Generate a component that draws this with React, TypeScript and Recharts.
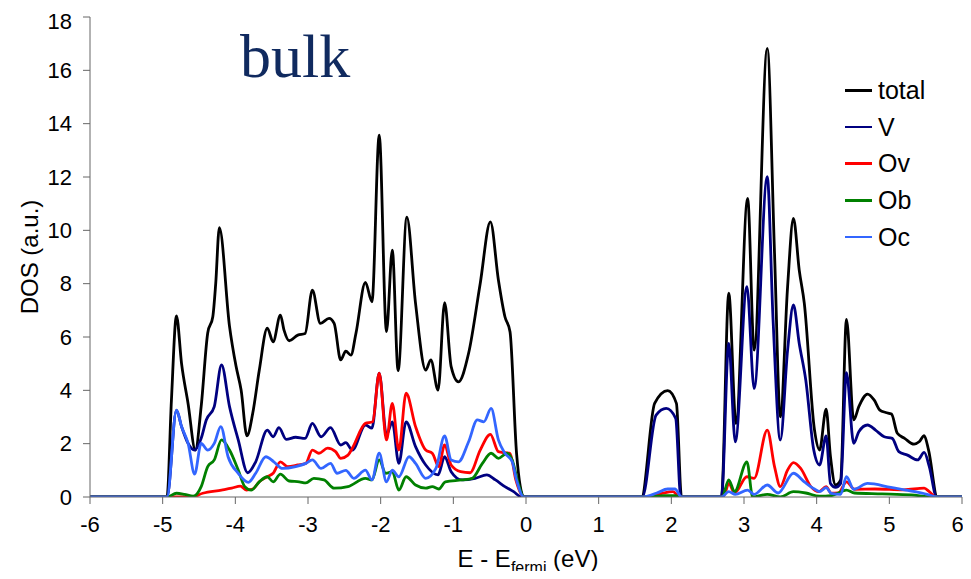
import { LineChart, Line, XAxis, YAxis, Legend } from "recharts";

// [E - Efermi (eV), DOS (a.u.)]
const totalPts: [number, number][] = [
  [-6, 0], [-4.94, 0], [-4.88, 3.6], [-4.81, 6.79], [-4.74, 5.0], [-4.65, 3.5], [-4.55, 1.76],
  [-4.47, 3.4], [-4.38, 6.15], [-4.31, 6.76], [-4.27, 8.0], [-4.22, 10.1], [-4.08, 6.4],
  [-3.99, 4.9], [-3.92, 4.0], [-3.84, 2.29], [-3.76, 3.15], [-3.67, 4.76], [-3.56, 6.33],
  [-3.48, 5.82], [-3.38, 6.82], [-3.33, 6.26], [-3.26, 5.86], [-3.14, 6.07], [-3.04, 6.13],
  [-2.94, 7.76], [-2.83, 6.51], [-2.71, 6.7], [-2.64, 6.51], [-2.55, 5.14], [-2.48, 5.47],
  [-2.41, 5.32], [-2.34, 6.14], [-2.21, 8.05], [-2.12, 7.32], [-2.02, 13.57], [-1.92, 6.2],
  [-1.84, 9.26], [-1.76, 4.74], [-1.64, 10.49], [-1.52, 7.26], [-1.38, 4.76], [-1.31, 5.14],
  [-1.21, 4.01], [-1.12, 7.29], [-1.03, 4.89], [-0.93, 4.32], [-0.79, 5.39], [-0.63, 8.01],
  [-0.49, 10.32], [-0.38, 8.14], [-0.29, 6.76], [-0.22, 6.2], [-0.13, 1.64], [-0.03, 0],
  [1.59, 0], [1.77, 3.51], [1.95, 3.99], [2.07, 3.51], [2.14, 0],
  [2.69, 0], [2.79, 7.64], [2.89, 2.76], [3.05, 11.2], [3.14, 5.51], [3.32, 16.82], [3.42, 9.14],
  [3.5, 3.01], [3.6, 7.89], [3.68, 10.45], [3.76, 8.51], [3.83, 7.26], [3.97, 2.51], [4.04, 1.76],
  [4.13, 3.29], [4.19, 1.51], [4.26, 0.45], [4.33, 0.64], [4.41, 6.66], [4.51, 2.89], [4.58, 3.39],
  [4.7, 3.86], [4.79, 3.64], [4.87, 3.26], [4.95, 3.17], [5.03, 3.11], [5.11, 2.39], [5.21, 2.2],
  [5.34, 1.98], [5.41, 2.07], [5.48, 2.3], [5.54, 1.76], [5.66, 0], [6, 0],
];

const vPts: [number, number][] = [
  [-6, 0], [-4.94, 0], [-4.81, 3.26], [-4.74, 2.64], [-4.65, 2.01], [-4.56, 1.76], [-4.47, 2.2],
  [-4.4, 2.89], [-4.29, 3.39], [-4.19, 4.95], [-4.08, 3.39], [-3.96, 2.14], [-3.83, 0.91],
  [-3.72, 1.32], [-3.56, 2.51], [-3.48, 2.26], [-3.4, 2.6], [-3.3, 2.16], [-3.17, 2.24],
  [-3.04, 2.2], [-2.94, 2.76], [-2.82, 2.26], [-2.69, 2.6], [-2.55, 1.95], [-2.48, 2.04],
  [-2.39, 1.76], [-2.21, 2.7], [-2.12, 2.58], [-2.02, 4.64], [-1.92, 2.32], [-1.84, 2.82],
  [-1.75, 1.26], [-1.65, 2.82], [-1.52, 1.89], [-1.38, 1.2], [-1.21, 0.83], [-1.12, 1.51],
  [-1.03, 0.95], [-0.88, 0.64], [-0.7, 0.7], [-0.54, 0.83], [-0.42, 0.64], [-0.29, 0.39],
  [-0.17, 0.2], [-0.06, 0],
  [1.6, 0], [1.79, 3.07], [1.93, 3.32], [2.06, 2.95], [2.13, 0],
  [2.69, 0], [2.79, 5.76], [2.88, 2.07], [3.04, 7.89], [3.14, 4.07], [3.32, 12.01], [3.4, 6.64],
  [3.5, 2.14], [3.6, 5.51], [3.68, 7.2], [3.76, 5.76], [3.85, 4.39], [3.96, 1.76], [4.04, 1.2],
  [4.13, 2.29], [4.19, 0.51], [4.26, 0.36], [4.33, 0.51], [4.41, 4.66], [4.51, 2.01], [4.58, 2.45],
  [4.7, 2.7], [4.81, 2.51], [4.93, 2.26], [5.04, 2.2], [5.13, 1.7], [5.25, 1.57], [5.39, 1.39],
  [5.48, 1.67], [5.55, 1.14], [5.65, 0], [6, 0],
];

const ovPts: [number, number][] = [
  [-6, 0], [-4.6, 0], [-4.45, 0.14], [-4.19, 0.26], [-4.05, 0.33], [-3.93, 0.41], [-3.85, 0.26],
  [-3.76, 0.3], [-3.67, 0.57], [-3.56, 0.76], [-3.48, 0.89], [-3.38, 1.32], [-3.28, 1.14],
  [-3.14, 1.2], [-3.03, 1.26], [-2.94, 1.76], [-2.85, 1.64], [-2.73, 1.83], [-2.62, 1.7],
  [-2.55, 1.45], [-2.45, 1.57], [-2.39, 1.83], [-2.21, 2.76], [-2.11, 2.82], [-2.02, 4.64],
  [-1.92, 2.14], [-1.84, 3.51], [-1.75, 1.76], [-1.65, 3.89], [-1.52, 2.64], [-1.38, 1.76],
  [-1.29, 1.64], [-1.2, 1.14], [-1.12, 1.95], [-1.03, 1.2], [-0.9, 0.95], [-0.77, 0.91],
  [-0.63, 1.76], [-0.49, 2.35], [-0.38, 1.7], [-0.29, 1.66], [-0.22, 1.64], [-0.14, 0.64],
  [-0.03, 0],
  [1.62, 0], [1.85, 0.12], [2.02, 0.2], [2.12, 0],
  [2.69, 0], [2.74, 0.14], [2.79, 0.51], [2.87, 0.15], [3.04, 0.76], [3.14, 0.7], [3.32, 2.51],
  [3.42, 1.14], [3.5, 0.39], [3.6, 1.01], [3.68, 1.29], [3.78, 1.07], [3.92, 0.39], [4.03, 0.2],
  [4.13, 0.39], [4.2, 0.14], [4.3, 0.15], [4.41, 0.57], [4.52, 0.29], [4.8, 0.3], [5.2, 0.27],
  [5.48, 0.33], [5.55, 0.2], [5.64, 0], [6, 0],
];

const obPts: [number, number][] = [
  [-6, 0], [-4.94, 0], [-4.81, 0.14], [-4.7, 0.1], [-4.58, 0.03], [-4.47, 0.39], [-4.38, 1.14],
  [-4.29, 1.39], [-4.19, 2.14], [-4.08, 1.76], [-3.96, 1.01], [-3.87, 0.39], [-3.78, 0.26],
  [-3.67, 0.57], [-3.56, 0.76], [-3.48, 0.57], [-3.38, 0.86], [-3.26, 0.6], [-3.12, 0.57],
  [-3.03, 0.53], [-2.92, 0.7], [-2.78, 0.64], [-2.64, 0.33], [-2.45, 0.39], [-2.21, 0.7],
  [-2.12, 0.64], [-2.02, 1.39], [-1.93, 0.89], [-1.84, 0.95], [-1.75, 0.26], [-1.65, 0.76],
  [-1.52, 0.45], [-1.38, 0.33], [-1.29, 0.39], [-1.2, 0.3], [-1.11, 0.57], [-0.88, 0.64],
  [-0.74, 0.7], [-0.6, 1.26], [-0.48, 1.64], [-0.38, 1.45], [-0.26, 1.64], [-0.19, 1.39],
  [-0.1, 0.45], [-0.03, 0],
  [1.65, 0], [1.9, 0.05], [2.05, 0.05], [2.12, 0],
  [2.7, 0], [2.79, 0.64], [2.87, 0.2], [3.04, 1.32], [3.12, 0], [3.32, 0.1], [3.5, 0], [3.68, 0.2],
  [3.85, 0.15], [4.04, 0.03], [4.2, 0.05], [4.41, 0.26], [4.52, 0.15], [4.9, 0.12], [5.3, 0.08],
  [5.6, 0], [6, 0],
];

const ocPts: [number, number][] = [
  [-6, 0], [-4.94, 0], [-4.81, 3.26], [-4.74, 2.64], [-4.65, 2.01], [-4.56, 0.86], [-4.47, 2.01],
  [-4.38, 1.76], [-4.29, 2.01], [-4.2, 2.64], [-4.1, 1.51], [-3.96, 0.89], [-3.82, 0.55],
  [-3.72, 0.89], [-3.58, 1.51], [-3.47, 1.32], [-3.35, 1.07], [-3.17, 1.14], [-3.03, 1.26],
  [-2.94, 1.39], [-2.82, 1.07], [-2.69, 1.26], [-2.6, 0.89], [-2.48, 1.0], [-2.37, 0.7],
  [-2.21, 1.01], [-2.12, 0.64], [-2.02, 1.64], [-1.92, 0.57], [-1.84, 1.01], [-1.75, 0.76],
  [-1.61, 1.51], [-1.52, 1.26], [-1.38, 0.7], [-1.24, 1.07], [-1.12, 2.29], [-1.03, 1.39],
  [-0.93, 1.32], [-0.79, 2.07], [-0.67, 2.89], [-0.58, 2.82], [-0.48, 3.32], [-0.38, 2.14],
  [-0.29, 1.64], [-0.19, 1.32], [-0.13, 0.64], [-0.03, 0],
  [1.6, 0], [1.8, 0.15], [1.95, 0.3], [2.05, 0.3], [2.14, 0],
  [2.69, 0], [2.79, 0.2], [2.88, 0.1], [3.05, 0.26], [3.14, 0.1], [3.32, 0.45], [3.47, 0.15],
  [3.68, 0.89], [3.83, 0.57], [3.97, 0.3], [4.04, 0.2], [4.13, 0.35], [4.2, 0.14], [4.33, 0.1],
  [4.41, 0.76], [4.51, 0.29], [4.7, 0.51], [5.02, 0.36], [5.35, 0.2], [5.52, 0.1], [5.66, 0], [6, 0],
];

const xTicks = [-6, -5, -4, -3, -2, -1, 0, 1, 2, 3, 4, 5, 6];
const yTicks = [0, 2, 4, 6, 8, 10, 12, 14, 16, 18];

const series = [
  { name: "total", color: "#000000", pts: totalPts },
  { name: "V", color: "#000080", pts: vPts },
  { name: "Ov", color: "#ff0000", pts: ovPts },
  { name: "Ob", color: "#008000", pts: obPts },
  { name: "Oc", color: "#3366ff", pts: ocPts },
];

const toRows = (pts: [number, number][]) => pts.map(([x, y]) => ({ x, y }));

const sans = "'Liberation Sans', Arial, sans-serif";

// keep the legend in series order (recharts sorts the payload by name)
function LegendBox() {
  return (
    <div style={{ fontFamily: sans, fontSize: 25, color: "#000" }}>
      {series.map((s) => (
        <div
          key={s.name}
          style={{ display: "flex", alignItems: "center", height: 36.7 }}
        >
          <span
            style={{
              display: "inline-block",
              width: 27,
              height: 2.5,
              background: s.color,
              marginRight: 6,
            }}
          />
          <span>{s.name}</span>
        </div>
      ))}
    </div>
  );
}

export default function App() {
  // outer box is 8px shorter than the chart so the page does not scroll
  return (
    <div style={{ height: 563 }}>
      <LineChart
        width={955}
        height={571}
        margin={{ top: 9, right: 1, left: 0, bottom: 0 }}
        style={{ background: "#fff", overflow: "visible" }}
      >
        <XAxis
          type="number"
          dataKey="x"
          domain={[-6, 6]}
          ticks={xTicks}
          allowDataOverflow
          height={82}
          stroke="#666"
          tickSize={7}
          tickMargin={12}
          tick={{ fill: "#000", fontSize: 22, fontFamily: sans }}
        />
        <YAxis
          type="number"
          domain={[0, 18]}
          ticks={yTicks}
          allowDataOverflow
          width={82}
          stroke="#666"
          tickSize={7}
          tickMargin={11}
          tick={{ fill: "#000", fontSize: 22, fontFamily: sans }}
        />
        {series.map((s) => (
          <Line
            key={s.name}
            name={s.name}
            data={toRows(s.pts)}
            dataKey="y"
            type="monotone"
            stroke={s.color}
            strokeWidth={2.8}
            dot={false}
            activeDot={false}
            isAnimationActive={false}
          />
        ))}
        <Legend
          layout="vertical"
          align="center"
          verticalAlign="middle"
          content={<LegendBox />}
          wrapperStyle={{ top: 64, left: 837, width: "auto", height: "auto" }}
        />
        <text
          x={232}
          y={69}
          fill="#102a5f"
          fontSize={62}
          fontFamily="'Liberation Serif', 'Times New Roman', serif"
        >
          bulk
        </text>
        <text
          x={21}
          y={249}
          transform="rotate(-90 21 249)"
          textAnchor="middle"
          dominantBaseline="central"
          fontSize={24}
          fontFamily={sans}
          fill="#000"
        >
          DOS (a.u.)
        </text>
        <text
          x={520}
          y={559}
          textAnchor="middle"
          fontSize={24}
          fontFamily={sans}
          fill="#000"
        >
          E - E
          <tspan fontSize={16} dy={6}>
            fermi
          </tspan>
          <tspan dy={-6}> (eV)</tspan>
        </text>
      </LineChart>
    </div>
  );
}
